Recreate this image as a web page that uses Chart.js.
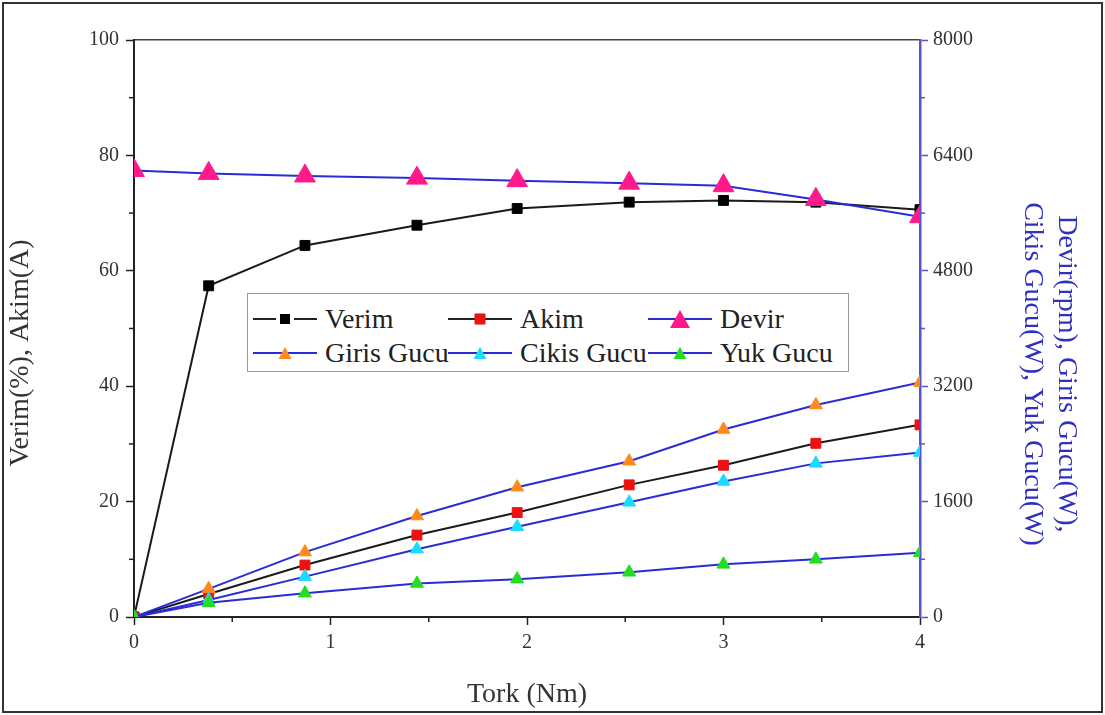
<!DOCTYPE html>
<html>
<head>
<meta charset="utf-8">
<script src="https://cdn.jsdelivr.net/npm/chart.js@4.4.1/dist/chart.umd.min.js"></script>
<style>
  html, body { margin: 0; padding: 0; background: #fff; }
  #wrap { position: relative; width: 1105px; height: 715px; }
  #frame { position: absolute; left: 2px; top: 2px; width: 1097px; height: 707px; border: 2px solid #333; pointer-events: none; }
  #legend { position: absolute; left: 247px; top: 293px; width: 600px; height: 77px; border: 1px solid #999; background: #fff;
            font-family: "Liberation Serif", "Times New Roman", serif; font-size: 28px; color: #222; }
  .item { position: absolute; height: 30px; line-height: 30px; white-space: nowrap; }
  .sym { position: absolute; left: 0; top: 0; width: 64px; height: 30px; }
  .sym .ln { position: absolute; left: 0; right: 0; top: 14px; height: 2px; }
  .sym .mk { position: absolute; left: 50%; top: 50%; transform: translate(-50%, -50%); }
  .txt { position: absolute; left: 72px; top: 0; }
</style>
</head>
<body>
<div id="wrap">
  <canvas id="chart"></canvas>
  <div id="legend"></div>
  <div id="frame"></div>
</div>
<script>
// valores
const torque = [0, 0.38, 0.87, 1.44, 1.95, 2.52, 3.0, 3.47, 4.0];
const verim = [0, 57.4, 64.4, 67.9, 70.8, 71.9, 72.2, 71.9, 70.6];
const akim = [0, 4.0, 9.0, 14.2, 18.1, 22.9, 26.3, 30.1, 33.3];
const devir = [6190, 6150, 6115, 6085, 6050, 6015, 5980, 5790, 5550];
const girisGucu = [0, 390, 900, 1400, 1800, 2160, 2600, 2940, 3250];
const cikisGucu = [0, 235, 560, 940, 1250, 1590, 1880, 2130, 2280];
const yukGucu = [0, 198, 330, 465, 525, 620, 730, 800, 890];

const seriesNames = ['Verim', 'Akim', 'Devir', 'Giris Gucu', 'Cikis Gucu', 'Yuk Gucu'];
const xTitle = 'Tork (Nm)';
const leftTitle = 'Verim(%), Akim(A)';
const rightTitle = ['Devir(rpm), Giris Gucu(W),', 'Cikis Gucu(W), Yuk Gucu(W)'];

const BLUE = '#2b2bd6';
const AXIS_BLUE = '#5656c8';
const FONT = '"Liberation Serif", "Times New Roman", serif';

const pts = ys => torque.map((t, i) => ({ x: t, y: ys[i] }));

function ds(label, values, axis, line, marker, style, radius, order) {
    return {
        label: label,
        data: pts(values),
        yAxisID: axis,
        borderColor: line,
        borderWidth: 2,
        backgroundColor: marker,
        pointBackgroundColor: marker,
        pointBorderColor: marker,
        pointBorderWidth: 1,
        pointStyle: style,
        pointRadius: radius,
        tension: 0,
        fill: false,
        order: order
    };
}

const datasets = [
    ds(seriesNames[0], verim, 'y', '#1a1a1a', '#000000', 'rect', 7, 6),
    ds(seriesNames[1], akim, 'y', '#1a1a1a', '#ee1111', 'rect', 7, 5),
    ds(seriesNames[2], devir, 'y1', BLUE, '#ff1a8c', 'triangle', 12, 4),
    ds(seriesNames[3], girisGucu, 'y1', BLUE, '#ff8a1c', 'triangle', 7.5, 3),
    ds(seriesNames[4], cikisGucu, 'y1', BLUE, '#19dcff', 'triangle', 7.5, 2),
    ds(seriesNames[5], yukGucu, 'y1', BLUE, '#22dd22', 'triangle', 7.5, 1)
];

// tiques menores entre os principais
const minorTicks = {
    id: 'minorTicks',
    afterDraw(chart) {
        const ctx = chart.ctx;
        const list = [['x', 'bottom', '#222'], ['y', 'left', '#222'], ['y1', 'right', AXIS_BLUE]];
        list.forEach(([id, side, color]) => {
            const s = chart.scales[id];
            ctx.save();
            ctx.strokeStyle = color;
            ctx.lineWidth = 1.5;
            for (let i = 0; i < s.ticks.length - 1; i++) {
                const v = (s.ticks[i].value + s.ticks[i + 1].value) / 2;
                const p = s.getPixelForValue(v);
                ctx.beginPath();
                if (side === 'bottom') { ctx.moveTo(p, s.top); ctx.lineTo(p, s.top + 5); }
                if (side === 'left') { ctx.moveTo(s.right, p); ctx.lineTo(s.right - 5, p); }
                if (side === 'right') { ctx.moveTo(s.left, p); ctx.lineTo(s.left + 5, p); }
                ctx.stroke();
            }
            ctx.restore();
        });
    }
};

const tickFont = { family: FONT, size: 20 };
const titleFont = { family: FONT, size: 28 };
// espacos deslocam o titulo para baixo, como no original
const pad = n => ' '.repeat(n);

new Chart(document.getElementById('chart'), {
    type: 'line',
    data: { datasets: datasets },
    options: {
        responsive: true,
        maintainAspectRatio: false,
        animation: false,
        layout: { padding: { top: 40, left: 0, right: 0, bottom: 0 } },
        plugins: { legend: { display: false }, tooltip: { enabled: false } },
        scales: {
            x: {
                type: 'linear', position: 'bottom', min: 0, max: 4,
                ticks: { stepSize: 1, font: tickFont, color: '#333', padding: 6 },
                grid: { drawOnChartArea: false, tickLength: 8, tickColor: '#222', tickWidth: 1.5 },
                border: { color: '#222', width: 2 },
                title: { display: true, text: xTitle, font: titleFont, color: '#333', padding: { top: 10 } },
                afterFit(s) { s.height = 98; }
            },
            xTop: {
                type: 'linear', position: 'top', min: 0, max: 4,
                ticks: { display: false },
                grid: { drawOnChartArea: false, drawTicks: false },
                border: { color: '#444', width: 1.5 },
                afterFit(s) { s.height = 0; }
            },
            y: {
                type: 'linear', position: 'left', min: 0, max: 100,
                ticks: { stepSize: 20, font: tickFont, color: '#333', padding: 7 },
                grid: { drawOnChartArea: false, tickLength: 8, tickColor: '#222', tickWidth: 1.5 },
                border: { color: '#222', width: 2 },
                title: { display: true, text: leftTitle + pad(7), font: titleFont, color: '#333', padding: { bottom: 8 } },
                afterFit(s) { s.width = 134; }
            },
            y1: {
                type: 'linear', position: 'right', min: 0, max: 8000,
                ticks: { stepSize: 1600, font: tickFont, color: '#333', padding: 5, callback: v => String(v) },
                grid: { drawOnChartArea: false, tickLength: 8, tickColor: AXIS_BLUE, tickWidth: 1.5 },
                border: { color: AXIS_BLUE, width: 2.5 },
                title: { display: true, text: rightTitle.map(t => pad(13) + t), font: titleFont, color: '#3030c0', padding: { top: 22 } },
                afterFit(s) { s.width = 185; }
            }
        }
    },
    plugins: [minorTicks]
});

// legenda em HTML, dentro da area do grafico
const legendStyles = [
    { line: '#222', fill: '#000', shape: 'square', size: 10, gap: true },
    { line: '#222', fill: '#ee1111', shape: 'square', size: 11 },
    { line: BLUE, fill: '#ff1a8c', shape: 'triangle', size: 20 },
    { line: BLUE, fill: '#ff8a1c', shape: 'triangle', size: 13 },
    { line: BLUE, fill: '#19dcff', shape: 'triangle', size: 13 },
    { line: BLUE, fill: '#22dd22', shape: 'triangle', size: 13 }
];
const colLeft = [5, 200, 400];
const rowTop = [10, 44];
const legend = document.getElementById('legend');
seriesNames.forEach((name, i) => {
    const st = legendStyles[i];
    const item = document.createElement('div');
    item.className = 'item';
    item.style.left = colLeft[i % 3] + 'px';
    item.style.top = rowTop[Math.floor(i / 3)] + 'px';
    const sym = document.createElement('div');
    sym.className = 'sym';
    const ln = document.createElement('div');
    ln.className = 'ln';
    ln.style.background = st.gap
        ? 'linear-gradient(90deg, ' + st.line + ' 0 36%, transparent 36% 64%, ' + st.line + ' 64% 100%)'
        : st.line;
    const mk = document.createElement('div');
    mk.className = 'mk';
    mk.style.width = st.size + 'px';
    mk.style.height = (st.shape === 'triangle' ? Math.round(st.size * 0.9) : st.size) + 'px';
    mk.style.background = st.fill;
    if (st.shape === 'triangle') mk.style.clipPath = 'polygon(50% 0, 100% 100%, 0 100%)';
    sym.appendChild(ln);
    sym.appendChild(mk);
    const txt = document.createElement('span');
    txt.className = 'txt';
    txt.textContent = name;
    item.appendChild(sym);
    item.appendChild(txt);
    legend.appendChild(item);
});
</script>
</body>
</html>
